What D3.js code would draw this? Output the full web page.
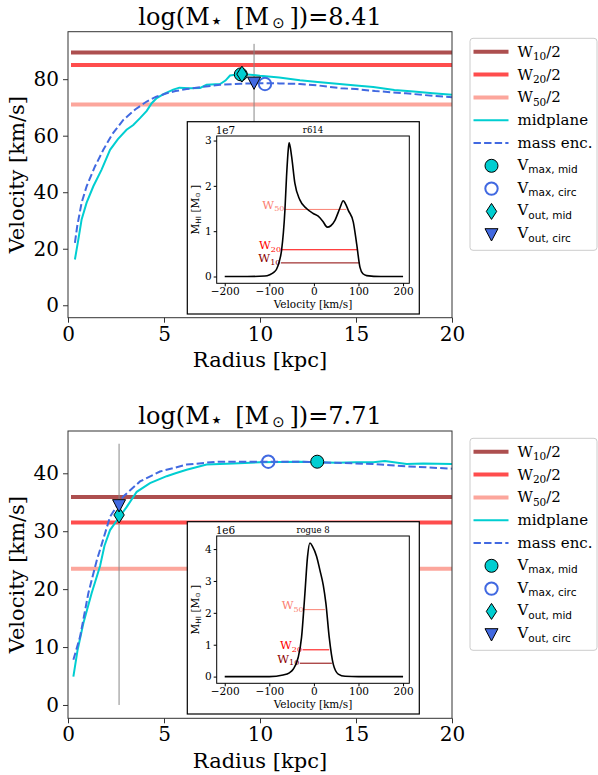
<!DOCTYPE html>
<html><head><meta charset="utf-8">
<script src="https://cdn.jsdelivr.net/npm/d3@7/dist/d3.min.js"></script>
<style>
body{margin:0;background:#fff}
svg{display:block}
text{font-family:"DejaVu Serif",serif;fill:#000}
</style>
</head><body>
<svg id="c" width="598" height="775"></svg>
<script>
// ---------------- DATA ----------------
const radiusTicks = [0, 5, 10, 15, 20];
const legendLabels = ["W10/2", "W20/2", "W50/2", "midplane", "mass enc.", "Vmax,mid", "Vmax,circ", "Vout,mid", "Vout,circ"];

// Panel 1 : log(M*)=8.41, galaxy r614
const p1Title = "8.41";
const p1Name = "r614";
const p1YTicks = [0, 20, 40, 60, 80];
const p1MidR = [0.36,0.54,0.71,0.97,1.32,1.75,2.19,2.6,3.05,3.4,3.75,4.1,4.36,4.62,5.0,5.48,5.8,6.3,6.88,7.22,7.92,8.2,8.44,9.0,9.65,10,11,12.08,13,14,15,15.9,17,18,19,20];
const p1MidV = [16.2,23.3,30.4,36.3,42.1,48,55,58.8,62.1,63.8,66.2,68.8,71.5,73.3,74.8,76.3,77,76.8,76.9,78,78.3,79.5,81.3,81.8,81.5,81.2,80.6,79.6,79,78.4,77.8,77.2,76.2,75.6,75,74.5];
const p1EncR = [0.36,0.48,0.71,0.97,1.41,1.84,2.3,2.88,3.5,4.1,4.6,5.14,5.6,6.18,7,7.92,9,10.34,11,12.08,13,14.2,15,16,17.6,19,20];
const p1EncV = [22.1,28,36.3,42.1,49.2,55,60.5,65.6,69.3,72.1,73.8,75,75.8,76.5,77.3,78,78.4,78.6,78.5,78.3,77.8,76.8,76.5,75.8,75,74.1,73.6];
const p1W = [89.4, 85.0, 71.0];          // W10/2, W20/2, W50/2
const p1ROut = 9.69, p1VLineTop = 92.5;
const p1VmaxMid = [9.0, 81.7];
const p1VmaxCirc = [10.26, 78.3];
const p1VoutMid = [9.06, 81.8];
const p1VoutCirc = [9.69, 78.8];
const p1ProfVel = [-200,-150,-110,-98.9,-90,-83.8,-78,-72.6,-65,-61.4,-57,-55.4,-50,-42.7,-31.5,-16.5,-1.5,9.7,20,29.9,38,47.2,58,65.9,70,77.2,88.4,95.9,103.4,110,118.4,150,200];
const p1ProfM   = [0,0,0.01,0.04,0.09,0.16,0.32,0.57,1.46,2.2,2.85,2.95,2.65,2.06,1.69,1.5,1.39,1.33,1.22,1.09,1.12,1.24,1.5,1.67,1.62,1.46,1.2,0.72,0.2,0.06,0.02,0,0];
const p1WLevel = [0.30, 0.59, 1.48];     // W10, W20, W50 (x1e7)
const p1WLo = [-74, -72.6, -65];
const p1WHi = [103.4, 97.3, 73];

// Panel 2 : log(M*)=7.71, galaxy rogue 8
const p2Title = "7.71";
const p2Name = "rogue 8";
const p2YTicks = [0, 10, 20, 30, 40];
const p2MidR = [0.28,0.5,0.8,1.23,1.67,1.9,2.19,2.62,3.06,3.58,4.27,5.14,5.6,6.18,7.22,8.6,10,12.08,13,14,15,15.9,16.5,17.64,18.5,20];
const p2MidV = [4.9,9.5,14.1,19.3,24,27.5,30.2,32.2,34.2,36.8,38.3,39.5,40.0,40.6,41.5,41.7,41.9,42.0,41.9,41.8,41.9,41.9,42.1,41.6,41.7,41.6];
const p2EncR = [0.28,0.63,1.06,1.5,1.67,2.19,2.88,3.75,4.79,6.18,7.74,10,12.08,14,15.9,17.64,20];
const p2EncV = [7.8,11.8,19.3,25.0,26.8,32.5,36.0,38.6,40.3,41.5,42.0,42.0,42.0,41.8,41.6,41.2,40.8];
const p2W = [35.9, 31.5, 23.5];
const p2ROut = 2.66, p2VLineTop = 45.1;
const p2VmaxMid = [12.98, 42.0];
const p2VmaxCirc = [10.43, 42.0];
const p2VoutMid = [2.66, 32.8];
const p2VoutCirc = [2.66, 34.5];
const p2ProfVel = [-200,-100,-69,-55,-46.5,-35.3,-27.7,-20.2,-14.2,-9,-2.9,6.1,13.5,21,27,34.4,43.4,54.6,70,100,200];
const p2ProfM   = [0,0,0.05,0.12,0.23,0.6,1.23,2.6,3.77,4.19,4.08,3.77,3.34,2.87,2.29,1.23,0.39,0.08,0.01,0,0];
const p2WLevel = [0.42, 0.84, 2.1];      // x1e6
const p2WLo = [-31.5, -25.4, -21.7];
const p2WHi = [40.4, 34.4, 24.7];

const profTicksX = [-200, -100, 0, 100, 200];
const p1ProfTicksY = [0, 1, 2, 3];
const p2ProfTicksY = [0, 1, 2, 3, 4];

// ---------------- STYLE ----------------
const C = {
  w10: "#ad4f4f", w20: "#ff4d4d", w50: "#fca69c",
  mid: "#00ced1", enc: "#4169e1",
  iw10: "#8b0000", iw20: "#ff0000", iw50: "#fa8072",
  spine: "#333"
};
const SERIF = '"DejaVu Serif", serif';
const SANS = '"DejaVu Sans", sans-serif';

const svg = d3.select("#c");

function rich(sel, parts, size) {
  // kinds: n normal, s subscript serif, ss subscript sans, st symbol subscript (sans), star
  let shift = 0;
  parts.forEach(([t, k]) => {
    const ts = sel.append("tspan").text(t);
    if (k === "n") {
      if (shift) { ts.attr("dy", -shift); shift = 0; }
      ts.attr("font-size", size);
    } else {
      const d = size * (k === "st" || k === "star" ? 0.14 : 0.22);
      ts.attr("dy", d - shift); shift = d;
      const sc = k === "star" ? 0.9 : (k === "st" ? 0.62 : 0.7);
      ts.attr("font-size", size * sc);
      if (k !== "s") ts.style("font-family", SANS);
    }
  });
  return sel;
}

function drawPanel(o) {
  const g = svg.append("g");
  const L = 68, R = 452, T = o.top, B = o.bottom;
  const x = d3.scaleLinear().domain([0, 20]).range([L, R]);
  const y = d3.scaleLinear().domain(o.yDom).range([B, T]);

  const tt = g.append("text").attr("x", (L + R) / 2).attr("y", T - 7)
    .attr("text-anchor", "middle").attr("font-size", 24);
  rich(tt, [["log(M", "n"], ["\u22C6", "star"], ["\u2002[M", "n"], ["\u2009\u2299", "st"], ["\u2009])=" + o.title, "n"]], 24);

  const plot = g.append("g");
  const wc = [C.w10, C.w20, C.w50];
  o.W.forEach((v, i) => {
    plot.append("line").attr("x1", x(0.0) + 3).attr("x2", R).attr("y1", y(v)).attr("y2", y(v))
      .attr("stroke", wc[i]).attr("stroke-width", 4);
  });
  plot.append("line").attr("x1", x(o.rOut)).attr("x2", x(o.rOut))
    .attr("y1", y(0)).attr("y2", y(o.vTop)).attr("stroke", "#888").attr("stroke-width", 1);

  const line = d3.line().x(d => x(d[0])).y(d => y(d[1]));
  plot.append("path").datum(d3.zip(o.midR, o.midV)).attr("d", line)
    .attr("fill", "none").attr("stroke", C.mid).attr("stroke-width", 2);
  plot.append("path").datum(d3.zip(o.encR, o.encV)).attr("d", line)
    .attr("fill", "none").attr("stroke", C.enc).attr("stroke-width", 2)
    .attr("stroke-dasharray", "7.4,3.2");

  marker(plot, "circFill", x(o.vmaxMid[0]), y(o.vmaxMid[1]));
  marker(plot, "circOpen", x(o.vmaxCirc[0]), y(o.vmaxCirc[1]));
  marker(plot, "diamond", x(o.voutMid[0]), y(o.voutMid[1]));
  marker(plot, "tri", x(o.voutCirc[0]), y(o.voutCirc[1]));

  drawInset(g, o);

  const ax = g.append("g");
  ax.append("rect").attr("x", L).attr("y", T).attr("width", R - L).attr("height", B - T)
    .attr("fill", "none").attr("stroke", C.spine).attr("stroke-width", 1);

  const xa = g.append("g").attr("transform", `translate(0,${B})`)
    .call(d3.axisBottom(x).tickValues(radiusTicks).tickSize(5).tickPadding(4).tickFormat(d3.format("d")));
  xa.select(".domain").remove();
  xa.selectAll("line").attr("stroke", C.spine);
  xa.selectAll("text").attr("font-size", 20).style("font-family", SERIF).attr("fill", "#000");
  const ya = g.append("g").attr("transform", `translate(${L},0)`)
    .call(d3.axisLeft(y).tickValues(o.yTicks).tickSize(5).tickPadding(4).tickFormat(d3.format("d")));
  ya.select(".domain").remove();
  ya.selectAll("line").attr("stroke", C.spine);
  ya.selectAll("text").attr("font-size", 20).style("font-family", SERIF).attr("fill", "#000");

  g.append("text").attr("x", (L + R) / 2).attr("y", B + 49.5).attr("text-anchor", "middle")
    .attr("font-size", 21).text("Radius [kpc]");
  g.append("text").attr("transform", `translate(${24},${(T + B) / 2}) rotate(-90)`)
    .attr("text-anchor", "middle").attr("font-size", 21).text("Velocity [km/s]");

  drawLegend(g, o.legendTop);
}

function marker(g, kind, cx, cy) {
  if (kind === "circFill") {
    g.append("circle").attr("cx", cx).attr("cy", cy).attr("r", 6.5)
      .attr("fill", C.mid).attr("stroke", "#000").attr("stroke-width", 1);
  } else if (kind === "circOpen") {
    g.append("circle").attr("cx", cx).attr("cy", cy).attr("r", 6.2)
      .attr("fill", "none").attr("stroke", C.enc).attr("stroke-width", 2);
  } else if (kind === "diamond") {
    g.append("path").attr("d", `M${cx},${cy - 8}L${cx + 5.2},${cy}L${cx},${cy + 8}L${cx - 5.2},${cy}Z`)
      .attr("fill", C.mid).attr("stroke", "#000").attr("stroke-width", 1);
  } else {
    g.append("path").attr("d", `M${cx - 6.5},${cy - 5.5}L${cx + 6.5},${cy - 5.5}L${cx},${cy + 6.8}Z`)
      .attr("fill", C.enc).attr("stroke", "#000").attr("stroke-width", 1);
  }
}

function drawInset(g, o) {
  const off = o.insetOff;
  const ox0 = 187.3, ox1 = 419.3, oy0 = 121.7 + off, oy1 = 314 + off;
  g.append("rect").attr("x", ox0).attr("y", oy0).attr("width", ox1 - ox0).attr("height", oy1 - oy0)
    .attr("fill", "#fff").attr("stroke", "#000").attr("stroke-width", 1.2);
  const L = 216.7, R = 409.3, T = 136 + off, B = 283.3 + off;
  const x = d3.scaleLinear().domain([-218, 214]).range([L, R]);
  const y = d3.scaleLinear().domain(o.profDom).range([B, T]);
  const ig = g.append("g");
  ig.append("text").attr("x", (L + R) / 2).attr("y", T - 3).attr("text-anchor", "middle")
    .attr("font-size", 8.5).text(o.name);
  ig.append("text").attr("x", L - 1).attr("y", T - 2).attr("font-size", 10.5).text(o.exp);

  const wc = [C.iw10, C.iw20, C.iw50];
  const wn = ["10", "20", "50"];
  o.wLevel.forEach((v, i) => {
    ig.append("line").attr("x1", x(o.wLo[i])).attr("x2", x(o.wHi[i])).attr("y1", y(v)).attr("y2", y(v))
      .attr("stroke", wc[i]).attr("stroke-width", 1);
    const t = ig.append("text").attr("x", 0).attr("y", y(v) - 0.5)
      .style("fill", wc[i]).attr("font-size", 11.5);
    rich(t, [["W", "n"], [wn[i], "s"]], 11.5);
    const w = t.node().getBBox().width;
    t.attr("x", x(o.wLo[i]) - w - 0.5);
  });
  const line = d3.line().x(d => x(d[0])).y(d => y(d[1])).curve(d3.curveMonotoneX);
  ig.append("path").datum(d3.zip(o.profVel, o.profM)).attr("d", line)
    .attr("fill", "none").attr("stroke", "#000").attr("stroke-width", 1.6);

  ig.append("rect").attr("x", L).attr("y", T).attr("width", R - L).attr("height", B - T)
    .attr("fill", "none").attr("stroke", "#000").attr("stroke-width", 1);
  const xa = ig.append("g").attr("transform", `translate(0,${B})`)
    .call(d3.axisBottom(x).tickValues(profTicksX).tickSize(3).tickPadding(1.5).tickFormat(d => d < 0 ? "\u2212" + (-d) : d));
  xa.select(".domain").remove();
  xa.selectAll("line").attr("stroke", "#000");
  xa.selectAll("text").attr("font-size", 10.5).style("font-family", SERIF).attr("fill", "#000");
  const ya = ig.append("g").attr("transform", `translate(${L},0)`)
    .call(d3.axisLeft(y).tickValues(o.profTicksY).tickSize(3).tickPadding(2).tickFormat(d3.format("d")));
  ya.select(".domain").remove();
  ya.selectAll("line").attr("stroke", "#000");
  ya.selectAll("text").attr("font-size", 10.5).style("font-family", SERIF).attr("fill", "#000");

  ig.append("text").attr("x", (L + R) / 2).attr("y", B + 25).attr("text-anchor", "middle")
    .attr("font-size", 10.5).text("Velocity [km/s]");
  const yl = ig.append("text").attr("transform", `translate(${L - 18},${(T + B) / 2}) rotate(-90)`)
    .attr("text-anchor", "middle").attr("font-size", 10.5);
  rich(yl, [["M", "n"], ["HI", "ss"], [" [M", "n"], ["\u2299", "st"], [" ]", "n"]], 10.5);
}

function drawLegend(g, top) {
  const x0 = 470, w = 127, h = 212;
  g.append("rect").attr("x", x0).attr("y", top).attr("width", w).attr("height", h).attr("rx", 3)
    .attr("fill", "#fff").attr("stroke", "#ccc").attr("stroke-width", 1);
  const rowY = i => top + 13.5 + i * 22.8;
  const hx0 = 473.5, hx1 = 508.5, mx = 491.5, tx = 517.5, fs = 15;
  const lc = [C.w10, C.w20, C.w50];
  const nums = ["10", "20", "50"];
  for (let i = 0; i < 3; i++) {
    g.append("line").attr("x1", hx0).attr("x2", hx1).attr("y1", rowY(i)).attr("y2", rowY(i))
      .attr("stroke", lc[i]).attr("stroke-width", 4);
    const t = g.append("text").attr("x", tx).attr("y", rowY(i) + 5).attr("font-size", fs);
    rich(t, [["W", "n"], [nums[i], "s"], ["/2", "n"]], fs);
  }
  g.append("line").attr("x1", hx0).attr("x2", hx1).attr("y1", rowY(3)).attr("y2", rowY(3))
    .attr("stroke", C.mid).attr("stroke-width", 2);
  g.append("text").attr("x", tx).attr("y", rowY(3) + 5).attr("font-size", fs).text(legendLabels[3]);
  g.append("line").attr("x1", hx0).attr("x2", hx1).attr("y1", rowY(4)).attr("y2", rowY(4))
    .attr("stroke", C.enc).attr("stroke-width", 2).attr("stroke-dasharray", "7.4,3.2");
  g.append("text").attr("x", tx).attr("y", rowY(4) + 5).attr("font-size", fs).text(legendLabels[4]);
  const kinds = ["circFill", "circOpen", "diamond", "tri"];
  const subs = ["max, mid", "max, circ", "out, mid", "out, circ"];
  kinds.forEach((k, j) => {
    const i = 5 + j;
    marker(g, k, mx, rowY(i));
    const t = g.append("text").attr("x", tx).attr("y", rowY(i) + 4).attr("font-size", fs);
    rich(t, [["V", "n"], [subs[j], "ss"]], fs);
  });
}

drawPanel({
  top: 31.7, bottom: 317.7, yDom: [-4.4, 96.8], yTicks: p1YTicks, title: p1Title,
  midR: p1MidR, midV: p1MidV, encR: p1EncR, encV: p1EncV, W: p1W, rOut: p1ROut, vTop: p1VLineTop,
  vmaxMid: p1VmaxMid, vmaxCirc: p1VmaxCirc, voutMid: p1VoutMid, voutCirc: p1VoutCirc,
  insetOff: 0, name: p1Name, exp: "1e7", profDom: [-0.15, 3.1], profTicksY: p1ProfTicksY,
  profVel: p1ProfVel, profM: p1ProfM, wLevel: p1WLevel, wLo: p1WLo, wHi: p1WHi, legendTop: 38.3
});
drawPanel({
  top: 431, bottom: 718.3, yDom: [-2.3, 47.3], yTicks: p2YTicks, title: p2Title,
  midR: p2MidR, midV: p2MidV, encR: p2EncR, encV: p2EncV, W: p2W, rOut: p2ROut, vTop: p2VLineTop,
  vmaxMid: p2VmaxMid, vmaxCirc: p2VmaxCirc, voutMid: p2VoutMid, voutCirc: p2VoutCirc,
  insetOff: 400, name: p2Name, exp: "1e6", profDom: [-0.21, 4.41], profTicksY: p2ProfTicksY,
  profVel: p2ProfVel, profM: p2ProfM, wLevel: p2WLevel, wLo: p2WLo, wHi: p2WHi, legendTop: 438.3
});
</script>
</body></html>
